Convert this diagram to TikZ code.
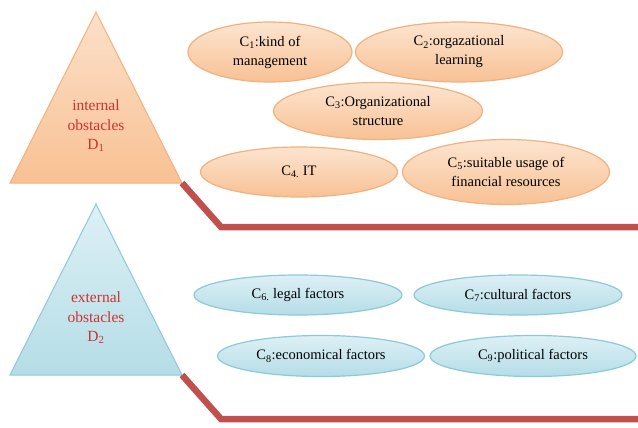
\documentclass[tikz,border=0pt]{standalone}
\usepackage{fontspec}
\setmainfont{Liberation Serif}
\usepackage{tikz}
\usetikzlibrary{shapes.geometric}

\definecolor{peach}{HTML}{FBD3B1}
\definecolor{peachdark}{HTML}{F8C194}
\definecolor{peachline}{HTML}{F2B17E}
\definecolor{sky}{HTML}{DDF0F5}
\definecolor{skydark}{HTML}{B5DDE7}
\definecolor{skyline}{HTML}{8CC9D9}
\definecolor{barred}{HTML}{C0504D}
\definecolor{labelred}{HTML}{CC3333}

\begin{document}
\begin{tikzpicture}[x=1pt,y=-1pt,
	inner/.style={ellipse,draw=peachline,line width=1.2pt,top color=sky!0!peach!60!white,bottom color=peachdark,
		inner sep=0pt,align=center,font=\fontsize{14.5}{19}\selectfont},
	outer/.style={ellipse,draw=skyline,line width=1.2pt,top color=sky,bottom color=skydark,
		inner sep=0pt,align=center,font=\fontsize{14.5}{19}\selectfont},
	obst/.style={text=labelred,align=center,font=\fontsize{15.5}{19.5}\selectfont},
	bar/.style={barred,line width=6.5pt,line join=miter}]
	\useasboundingbox (0,0) rectangle (638,428);

	\coordinate (d1top) at (96,12);
	\coordinate (d1left) at (10,183);
	\coordinate (d1right) at (182,183);
	\shade[top color=peach!70!white,bottom color=peachdark,draw=peachline,line width=1pt] (d1top) -- (d1left) -- (d1right) -- cycle;
	\node[obst] (d1) at (96,126) {internal\\obstacles\\D\textsubscript{1}};

	\coordinate (d2top) at (96,204);
	\coordinate (d2left) at (10,375);
	\coordinate (d2right) at (182,375);
	\shade[top color=sky,bottom color=skydark,draw=skyline,line width=1pt] (d2top) -- (d2left) -- (d2right) -- cycle;
	\node[obst] (d2) at (96,318) {external\\obstacles\\D\textsubscript{2}};

	\coordinate (bend1) at (221,227);
	\coordinate (end1) at (640,227);
	\draw[bar] (d1right) -- (bend1) -- (end1);
	\coordinate (bend2) at (221,419);
	\coordinate (end2) at (640,419);
	\draw[bar] (d2right) -- (bend2) -- (end2);

	\node[inner,minimum width=164pt,minimum height=60pt] (c1) at (270,52) {C\textsubscript{1}:kind of\\management};
	\node[inner,minimum width=207pt,minimum height=60pt] (c2) at (459,52) {C\textsubscript{2}:orgazational\\learning};
	\node[inner,minimum width=209pt,minimum height=57pt] (c3) at (378,111) {C\textsubscript{3}:Organizational\\structure};
	\node[inner,minimum width=197pt,minimum height=50pt] (c4) at (299,172) {C\textsubscript{4.}\ IT};
	\node[inner,minimum width=207pt,minimum height=65pt] (c5) at (506,172) {C\textsubscript{5}:suitable usage of\\financial resources};

	\node[outer,minimum width=208pt,minimum height=40pt] (c6) at (298,295) {C\textsubscript{6.}\ legal factors};
	\node[outer,minimum width=208pt,minimum height=40pt] (c7) at (518,295) {C\textsubscript{7}:cultural factors};
	\node[outer,minimum width=207pt,minimum height=41pt] (c8) at (321,356) {C\textsubscript{8}:economical factors};
	\node[outer,minimum width=206pt,minimum height=41pt] (c9) at (533,356) {C\textsubscript{9}:political factors};
\end{tikzpicture}
\end{document}
